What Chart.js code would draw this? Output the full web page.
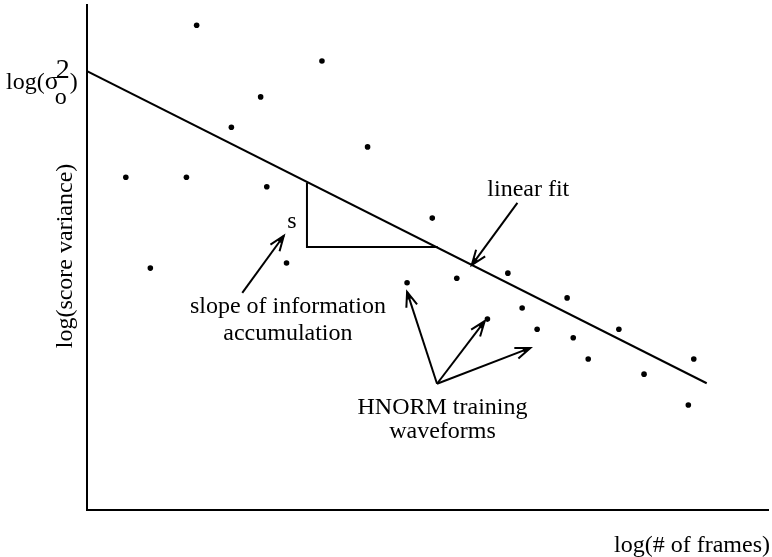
<!DOCTYPE html>
<html>
<head>
<meta charset="utf-8">
<script src="https://cdn.jsdelivr.net/npm/chart.js@4.4.1/dist/chart.umd.min.js"></script>
<style>
  html, body { margin: 0; padding: 0; background: #fff; }
  #wrap { width: 772px; height: 557px; }
</style>
</head>
<body>
<div id="wrap"><canvas id="varChart"></canvas></div>
<script>
// training waveforms: log(# of frames) vs log(score variance)
const frameLogs = [1.61, 3.45, 2.55, 2.12, 4.12, 0.57, 1.46, 2.64, 5.07, 0.93, 2.93, 6.18,
                   5.43, 4.70, 7.05, 6.39, 5.88, 6.61, 7.81, 7.14, 7.36, 8.91, 8.18, 8.83];
const varianceLogs = [9.60, 8.89, 8.18, 7.58, 7.19, 6.59, 6.59, 6.40, 5.78, 4.79, 4.89, 4.69,
                      4.59, 4.50, 4.20, 4.00, 3.78, 3.58, 3.58, 3.41, 2.99, 2.99, 2.69, 2.08];

// linear fit end points and the slope triangle
const fitX = [0, 9.1];
const fitY = [8.69, 2.51];
const triX = [3.23, 3.23, 5.15];
const triY = [6.48, 5.21, 5.21];

// annotation arrows [fromX, fromY, toX, toY]
const arrows = [
  [2.28, 4.30, 2.89, 5.43],
  [6.32, 6.08, 5.65, 4.85],
  [5.14, 2.50, 4.70, 4.32],
  [5.14, 2.50, 5.84, 3.74],
  [5.14, 2.50, 6.51, 3.21]
];
// annotation texts [text, x, y]
const notes = [
  ['s', 3.01, 5.70],
  ['slope of information', 2.95, 4.02],
  ['accumulation', 2.95, 3.50],
  ['linear fit', 6.48, 6.34],
  ['HNORM training', 5.22, 2.02],
  ['waveforms', 5.22, 1.56]
];

const toPts = (xs, ys) => xs.map((x, i) => ({ x: x, y: ys[i] }));
const FONT = '"Liberation Serif", "Times New Roman", serif';

// arrows, notes and axis captions drawn on top of the datasets
const notesPlugin = {
  id: 'notesPlugin',
  afterDatasetsDraw(chart) {
    const ctx = chart.ctx;
    const sx = chart.scales.x, sy = chart.scales.y;
    ctx.save();
    ctx.strokeStyle = '#000';
    ctx.fillStyle = '#000';
    ctx.lineWidth = 2;
    ctx.lineCap = 'butt';

    arrows.forEach(a => {
      const x1 = sx.getPixelForValue(a[0]), y1 = sy.getPixelForValue(a[1]);
      const x2 = sx.getPixelForValue(a[2]), y2 = sy.getPixelForValue(a[3]);
      const ang = Math.atan2(y2 - y1, x2 - x1);
      ctx.beginPath();
      ctx.moveTo(x1, y1);
      ctx.lineTo(x2, y2);
      ctx.stroke();
      // open head with a small filled tip
      const len = 16, spread = 0.36;
      ctx.beginPath();
      ctx.moveTo(x2 - len * Math.cos(ang - spread), y2 - len * Math.sin(ang - spread));
      ctx.lineTo(x2, y2);
      ctx.lineTo(x2 - len * Math.cos(ang + spread), y2 - len * Math.sin(ang + spread));
      ctx.stroke();
      ctx.beginPath();
      ctx.moveTo(x2, y2);
      ctx.lineTo(x2 - 8 * Math.cos(ang - 0.3), y2 - 8 * Math.sin(ang - 0.3));
      ctx.lineTo(x2 - 8 * Math.cos(ang + 0.3), y2 - 8 * Math.sin(ang + 0.3));
      ctx.closePath();
      ctx.fill();
    });

    ctx.font = '24px ' + FONT;
    ctx.textAlign = 'center';
    ctx.textBaseline = 'middle';
    notes.forEach(n => {
      ctx.fillText(n[0], sx.getPixelForValue(n[1]), sy.getPixelForValue(n[2]));
    });

    // x axis caption, bottom right
    ctx.textAlign = 'right';
    ctx.fillText('log(# of frames)', 770, 546);

    // y axis caption, rotated
    ctx.save();
    ctx.translate(66, 256);
    ctx.rotate(-Math.PI / 2);
    ctx.textAlign = 'center';
    ctx.fillText('log(score variance)', 0, 0);
    ctx.restore();

    // intercept label log(σo²)
    ctx.textAlign = 'left';
    ctx.textBaseline = 'alphabetic';
    ctx.font = '24px ' + FONT;
    ctx.fillText('log(', 6, 89);
    const w = ctx.measureText('log(').width;
    ctx.font = '26px ' + FONT;
    ctx.fillText('σ', 6 + w, 89);
    const ws = ctx.measureText('σ').width;
    ctx.font = '24px ' + FONT;
    ctx.fillText('o', 6 + w + ws - 4, 104);
    ctx.font = '28px ' + FONT;
    ctx.fillText('2', 6 + w + ws - 3, 78);
    ctx.font = '24px ' + FONT;
    ctx.fillText(')', 6 + w + ws + 11, 89);
    ctx.restore();
  }
};

const ctx = document.getElementById('varChart').getContext('2d');
new Chart(ctx, {
  type: 'scatter',
  data: {
    datasets: [
      {
        data: toPts(frameLogs, varianceLogs),
        backgroundColor: '#000',
        borderColor: '#000',
        pointRadius: 2.8,
        pointBorderWidth: 0
      },
      {
        type: 'line',
        data: toPts(fitX, fitY),
        borderColor: '#000',
        borderWidth: 2,
        pointRadius: 0,
        fill: false
      },
      {
        type: 'line',
        data: toPts(triX, triY),
        borderColor: '#000',
        borderWidth: 2,
        pointRadius: 0,
        fill: false
      }
    ]
  },
  options: {
    responsive: true,
    maintainAspectRatio: false,
    animation: false,
    layout: { padding: { top: 5, right: 0, left: 0, bottom: 0 } },
    plugins: {
      legend: { display: false },
      tooltip: { enabled: false }
    },
    scales: {
      x: {
        type: 'linear',
        min: 0,
        max: 10,
        grid: { display: false },
        ticks: { display: false },
        border: { display: true, color: '#000', width: 2 },
        afterFit: (scale) => { scale.height = 47; }
      },
      y: {
        type: 'linear',
        min: 0,
        max: 10,
        grid: { display: false },
        ticks: { display: false },
        border: { display: true, color: '#000', width: 2 },
        afterFit: (scale) => { scale.width = 87; }
      }
    }
  },
  plugins: [notesPlugin]
});
</script>
</body>
</html>
